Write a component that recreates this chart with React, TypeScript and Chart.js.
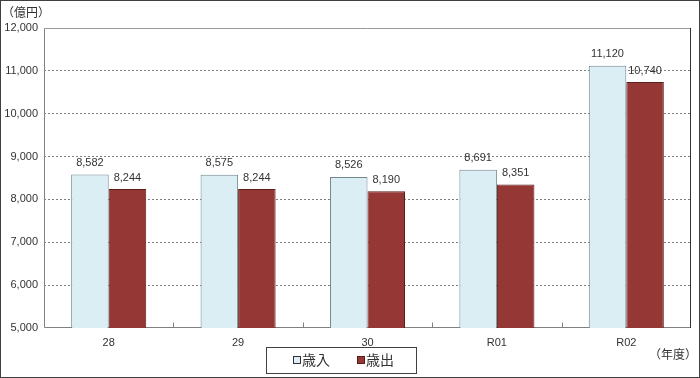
import React, { useEffect, useRef } from "react";
import { Chart, registerables } from "chart.js";

Chart.register(...registerables);

const categories = ["28", "29", "30", "R01", "R02"];
const revenue = [8582, 8575, 8526, 8691, 11120];
const expenditure = [8244, 8244, 8190, 8351, 10740];
const seriesNames = ["歳入", "歳出"];
const yMin = 5000;
const yMax = 12000;
const yStep = 1000;

const FONT = "'Liberation Sans', Arial, sans-serif";
const JFONT = "'Noto Sans CJK JP', sans-serif";
const REV_FILL = "#DAEEF3";
const REV_BORDER = "#70878F";
const EXP_FILL = "#953735";
const EXP_BORDER = "#5A1E1D";

const fmt = (v: number) => v.toLocaleString("en-US");

const decor = {
  id: "decor",
  beforeDatasetsDraw(chart: any) {
    const { ctx, chartArea } = chart;
    const { left, right, top, bottom } = chartArea;
    const L = Math.round(left) + 0.5;
    const R = Math.round(right) - 0.5;
    const T = Math.round(top) + 0.5;
    const B = Math.round(bottom) - 0.5;
    ctx.save();
    ctx.lineWidth = 1;
    ctx.setLineDash([]);
    ctx.strokeStyle = "#999999";
    ctx.beginPath();
    ctx.moveTo(L, T);
    ctx.lineTo(R, T);
    ctx.stroke();
    ctx.strokeStyle = "#808080";
    ctx.beginPath();
    ctx.moveTo(L, T);
    ctx.lineTo(L, B);
    ctx.lineTo(R, B);
    ctx.stroke();
    ctx.strokeStyle = "#808080";
    const w = (right - left) / categories.length;
    for (let i = 1; i < categories.length; i++) {
      const x = Math.round(left + i * w) + 0.5;
      ctx.beginPath();
      ctx.moveTo(x, B);
      ctx.lineTo(x, B - 5);
      ctx.stroke();
    }
    ctx.restore();
  },
  afterDraw(chart: any) {
    const { ctx, chartArea } = chart;
    ctx.save();
    ctx.setLineDash([]);
    ctx.lineWidth = 1;
    ctx.strokeStyle = "#333333";
    const R = Math.round(chartArea.right) - 0.5;
    ctx.beginPath();
    ctx.moveTo(R, Math.round(chartArea.top));
    ctx.lineTo(R, Math.round(chartArea.bottom));
    ctx.stroke();

    ctx.font = `11px ${FONT}`;
    ctx.fillStyle = "#333333";
    ctx.textAlign = "center";
    ctx.textBaseline = "bottom";
    chart.data.datasets.forEach((ds: any, di: number) => {
      const meta = chart.getDatasetMeta(di);
      meta.data.forEach((bar: any, i: number) => {
        ctx.fillText(fmt(ds.data[i]), bar.x, bar.y - 6);
      });
    });
    ctx.font = `12px ${JFONT}`;
    ctx.fillStyle = "#333333";
    ctx.textBaseline = "middle";
    ctx.textAlign = "left";
    ctx.fillText("（億円）", 2, 12);
    ctx.textAlign = "right";
    ctx.fillText("（年度）", 697, 354);
    ctx.strokeStyle = "#404040";
    ctx.lineWidth = 1;
    ctx.strokeRect(266.5, 347.5, 150, 26);
    ctx.fillStyle = REV_FILL;
    ctx.fillRect(293.5, 356.5, 7, 7);
    ctx.strokeStyle = "#333";
    ctx.strokeRect(293.5, 356.5, 7, 7);
    ctx.fillStyle = EXP_FILL;
    ctx.fillRect(357.5, 356.5, 7, 7);
    ctx.strokeStyle = EXP_BORDER;
    ctx.strokeRect(357.5, 356.5, 7, 7);
    ctx.font = `14px ${JFONT}`;
    ctx.fillStyle = "#333333";
    ctx.textAlign = "left";
    ctx.fillText(seriesNames[0], 302, 360);
    ctx.fillText(seriesNames[1], 366, 360);
    ctx.strokeStyle = "#404040";
    ctx.strokeRect(0.5, 0.5, 699, 377);
    ctx.restore();
  },
};

export default function App() {
  const ref = useRef<HTMLCanvasElement>(null);
  useEffect(() => {
    document.body.style.margin = "0";
    const chart = new Chart(ref.current!, {
      type: "bar",
      data: {
        labels: categories,
        datasets: [
          {
            label: seriesNames[0],
            data: revenue,
            backgroundColor: REV_FILL,
            borderColor: REV_BORDER,
            borderWidth: 1,
            categoryPercentage: 0.58,
            barPercentage: 1.0,
          },
          {
            label: seriesNames[1],
            data: expenditure,
            backgroundColor: EXP_FILL,
            borderColor: EXP_BORDER,
            borderWidth: 1,
            categoryPercentage: 0.58,
            barPercentage: 1.0,
          },
        ],
      },
      options: {
        animation: false,
        responsive: false,
        maintainAspectRatio: false,
        layout: { padding: { top: 28, right: 9, left: 0, bottom: 0 } },
        plugins: { legend: { display: false }, tooltip: { enabled: false } },
        scales: {
          x: {
            grid: { display: false, drawTicks: false },
            border: { display: false },
            ticks: { color: "#333", font: { size: 11, family: FONT }, padding: 8 },
            afterFit: (s: any) => { s.height = 50; },
          },
          y: {
            min: yMin,
            max: yMax,
            ticks: {
              stepSize: yStep,
              color: "#333",
              font: { size: 11, family: FONT },
              padding: 6,
              callback: (v: any) => fmt(Number(v)),
            },
            grid: {
              color: (c: any) => (c.tick && (c.tick.value === yMin || c.tick.value === yMax) ? "rgba(0,0,0,0)" : "#808080"),
              drawTicks: false,
              lineWidth: 1,
            },
            border: { display: false, dash: [2, 2] },
            afterFit: (s: any) => { s.width = 44; },
          },
        },
      },
      plugins: [decor],
    });
    return () => chart.destroy();
  }, []);
  return <canvas ref={ref} width={700} height={378} style={{ display: "block" }} />;
}
